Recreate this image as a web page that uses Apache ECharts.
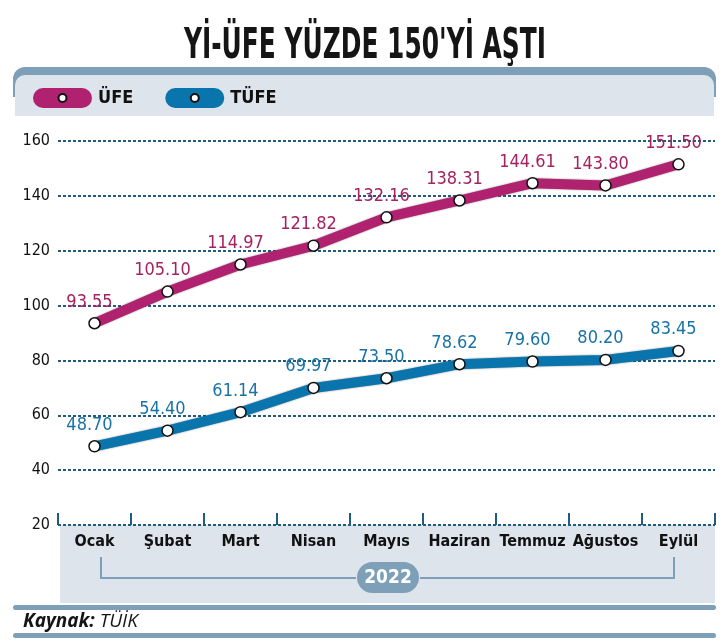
<!DOCTYPE html>
<html>
<head>
<meta charset="utf-8">
<script src="https://cdn.jsdelivr.net/npm/echarts@6/dist/echarts.min.js"></script>
<style>
html,body{margin:0;padding:0;background:#fff}
#main{width:723px;height:644px}
</style>
</head>
<body>
<div id="main"></div>
<script>
// veriler
var months = ['Ocak', 'Şubat', 'Mart', 'Nisan', 'Mayıs', 'Haziran', 'Temmuz', 'Ağustos', 'Eylül'];
var ufe = [93.55, 105.10, 114.97, 121.82, 132.16, 138.31, 144.61, 143.80, 151.50];
var tufe = [48.70, 54.40, 61.14, 69.97, 73.50, 78.62, 79.60, 80.20, 83.45];
var yMin = 20, yMax = 160, yStep = 20;
var titleText = "Yİ-ÜFE YÜZDE 150'Yİ AŞTI";
var yearText = '2022';
var sourceText = 'TÜİK';

var narrow = '"DejaVu Sans Condensed", "Liberation Sans Narrow", sans-serif';
var grid = '#1f5d80';
var steel = '#7d9fb7';
var pale = '#dde4eb';

// başlık genişliği için ölçek
function textScale(txt, font, target) {
  var ctx = document.createElement('canvas').getContext('2d');
  ctx.font = font;
  return target / ctx.measureText(txt).width;
}
var titleFont = 'bold 42px ' + narrow;
var titleScale = textScale(titleText, titleFont, 362);

var myChart = echarts.init(document.getElementById('main'));

var option = {
  animation: false,
  backgroundColor: '#fff',
  graphic: [
    // üst bant
    { type: 'rect', z: -1, shape: { x: 13, y: 67, width: 703, height: 30, r: [12, 12, 0, 0] }, style: { fill: steel } },
    { type: 'rect', z: -1, shape: { x: 15, y: 75, width: 699, height: 41, r: [10, 10, 0, 0] }, style: { fill: pale } },
    // alt bölge
    { type: 'rect', z: -1, shape: { x: 60, y: 525, width: 655, height: 78 }, style: { fill: pale } },
    { type: 'rect', shape: { x: 13, y: 605, width: 703, height: 5, r: 2.5 }, style: { fill: steel } },
    { type: 'rect', shape: { x: 13, y: 633, width: 703, height: 5, r: 2.5 }, style: { fill: steel } },
    // yıl parantezi
    { type: 'polyline', shape: { points: [[101, 557], [101, 578], [356, 578]] }, style: { stroke: steel, lineWidth: 2, fill: null } },
    { type: 'polyline', shape: { points: [[420, 578], [674, 578], [674, 557]] }, style: { stroke: steel, lineWidth: 2, fill: null } },
    { type: 'rect', shape: { x: 357, y: 562, width: 62, height: 31, r: 15.5 }, style: { fill: steel } },
    { type: 'text', x: 388, y: 578, style: { text: yearText, fill: '#fff', font: 'bold 19px ' + narrow, textAlign: 'center', textVerticalAlign: 'middle' } },
    // başlık
    { type: 'text', x: 365, y: 47, scaleX: titleScale, style: { text: titleText, fill: '#151515', font: titleFont, textAlign: 'center', textVerticalAlign: 'middle' } },
    // kaynak
    {
      type: 'text', x: 23, y: 622,
      style: {
        text: '{b|Kaynak:} ' + sourceText,
        fill: '#151515',
        fontFamily: '"Open Sans", sans-serif', fontStyle: 'italic', fontSize: 19,
        textVerticalAlign: 'middle',
        rich: { b: { fontWeight: 'bold', fontStyle: 'italic', fontFamily: '"Open Sans", sans-serif', fontSize: 19 } }
      }
    }
  ],
  legend: {
    left: 28, top: 83,
    itemWidth: 39, itemHeight: 10, itemGap: 32,
    selectedMode: false,
    data: ['ÜFE', 'TÜFE'],
    lineStyle: { width: 20, cap: 'round' },
    textStyle: { fontFamily: narrow, fontWeight: 'bold', fontSize: 18, color: '#111', padding: [0, 0, 0, 11] }
  },
  grid: { left: 58, right: 8, top: 141, bottom: 119, containLabel: false },
  xAxis: {
    type: 'category',
    data: months,
    boundaryGap: true,
    axisLine: { show: false },
    axisTick: { show: true, inside: true, length: 12, lineStyle: { color: grid, width: 2 } },
    axisLabel: { interval: 0, fontFamily: narrow, fontWeight: 'bold', fontSize: 16, color: '#111', margin: 9 }
  },
  yAxis: {
    type: 'value',
    min: yMin, max: yMax, interval: yStep,
    axisLine: { show: false },
    axisTick: { show: false },
    axisLabel: { fontFamily: narrow, fontSize: 16, color: '#111', margin: 8 },
    splitLine: { lineStyle: { color: grid, width: 2, type: [3, 2] } }
  },
  series: [
    {
      name: 'ÜFE', type: 'line', data: ufe,
      symbol: 'circle', symbolSize: 11,
      lineStyle: { color: '#b0226f', width: 10, shadowColor: 'rgba(0,0,0,0.45)', shadowBlur: 2 },
      itemStyle: { color: '#fff', borderColor: '#111', borderWidth: 1.5 },
      label: {
        show: true, position: 'top', distance: 6, offset: [-5, 0],
        color: '#a5215f', fontFamily: narrow, fontSize: 18,
        formatter: function (p) { return p.value.toFixed(2); }
      },
      emphasis: { disabled: true }
    },
    {
      name: 'TÜFE', type: 'line', data: tufe,
      symbol: 'circle', symbolSize: 11,
      lineStyle: { color: '#0a75ad', width: 10, shadowColor: 'rgba(0,0,0,0.45)', shadowBlur: 2 },
      itemStyle: { color: '#fff', borderColor: '#111', borderWidth: 1.5 },
      label: {
        show: true, position: 'top', distance: 6, offset: [-5, 0],
        color: '#1872a6', fontFamily: narrow, fontSize: 18,
        formatter: function (p) { return p.value.toFixed(2); }
      },
      emphasis: { disabled: true }
    }
  ]
};

myChart.setOption(option);
</script>
</body>
</html>
